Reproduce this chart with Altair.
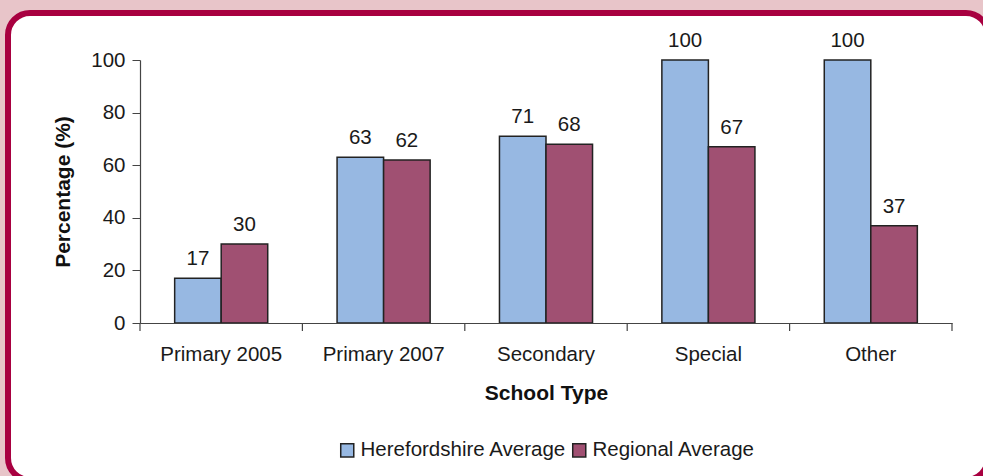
import altair as alt
import pandas as pd

categories = ["Primary 2005", "Primary 2007", "Secondary", "Special", "Other"]
herefordshire = [17, 63, 71, 100, 100]
regional = [30, 62, 68, 67, 37]
series = ["Herefordshire Average", "Regional Average"]

rows = []
for c, h, r in zip(categories, herefordshire, regional):
    rows.append({"cat": c, "series": series[0], "value": h})
    rows.append({"cat": c, "series": series[1], "value": r})
df = pd.DataFrame(rows)

W, H = 812, 263
FONT = "Liberation Sans"
FS = 20.5
TFS = 21

xscale = alt.Scale(domain=categories, paddingInner=0, paddingOuter=0)
offscale = alt.Scale(domain=series, paddingInner=0, paddingOuter=0.745)
color = alt.Color(
    "series:N",
    scale=alt.Scale(domain=series, range=["#97B8E2", "#A05072"]),
    legend=alt.Legend(
        title=None, orient="none", direction="horizontal",
        legendX=197, legendY=380, symbolType="square", symbolSize=170,
        symbolStrokeColor="#222222", symbolStrokeWidth=1.5,
        labelFont=FONT, labelFontSize=FS, labelColor="#1a1a1a", labelLimit=0,
        columnPadding=2, labelOffset=3, symbolOffset=0,
    ),
)

card = alt.Chart(pd.DataFrame({"a": [0]})).mark_rect(
    fill="white", stroke="#A80040", strokeWidth=6, cornerRadius=22
).encode(
    x=alt.value(-132), x2=alt.value(848), y=alt.value(-47), y2=alt.value(420)
)

base = alt.Chart(df).encode(
    x=alt.X(
        "cat:N", scale=xscale, sort=categories,
        axis=alt.Axis(
            title="School Type", titleFont=FONT, titleFontSize=TFS, titleFontWeight="bold",
            titleColor="#111111", titlePadding=18,
            labelFont=FONT, labelFontSize=FS, labelColor="#1a1a1a", labelAngle=0,
            labelPadding=21, ticks=False, domainColor="#444444", domainWidth=1.2,
            zindex=2,
        ),
    ),
    xOffset=alt.XOffset("series:N", sort=series, scale=offscale),
)

bars = base.mark_bar(stroke="#222222", strokeWidth=1.5).encode(
    y=alt.Y(
        "value:Q", scale=alt.Scale(domain=[0, 100]),
        axis=alt.Axis(
            title="Percentage (%)", titleFont=FONT, titleFontSize=TFS, titleFontWeight="bold",
            titleColor="#111111", titlePadding=17,
            values=[0, 20, 40, 60, 80, 100], labelFont=FONT, labelFontSize=FS,
            labelColor="#1a1a1a", labelPadding=7, tickSize=8, tickColor="#444444",
            domainColor="#444444", domainWidth=1.2, grid=False, zindex=2,
        ),
    ),
    color=color,
)

labels = base.mark_text(
    baseline="bottom", dy=-9, font=FONT, fontSize=FS, color="#1a1a1a"
).encode(y="value:Q", text="value:Q")

ticks = alt.Chart(pd.DataFrame({"cat": categories})).mark_rule(
    color="#444444", strokeWidth=1.2
).encode(
    x=alt.X("cat:N", scale=xscale, sort=categories, bandPosition=0),
    y=alt.value(H), y2=alt.value(H + 8),
)
end_tick = alt.Chart(pd.DataFrame({"a": [0]})).mark_rule(
    color="#444444", strokeWidth=1.2
).encode(x=alt.value(W), y=alt.value(H), y2=alt.value(H + 8))

chart = alt.layer(card, bars, labels, ticks, end_tick).properties(
    width=W, height=H, background="#E8C5C9",
    padding={"left": 140, "top": 60, "right": 31, "bottom": 153},
    autosize=alt.AutoSizeParams(type="none"),
).configure_view(stroke=None)

chart.save("out.html", embed_options={"renderer": "svg", "actions": False})
